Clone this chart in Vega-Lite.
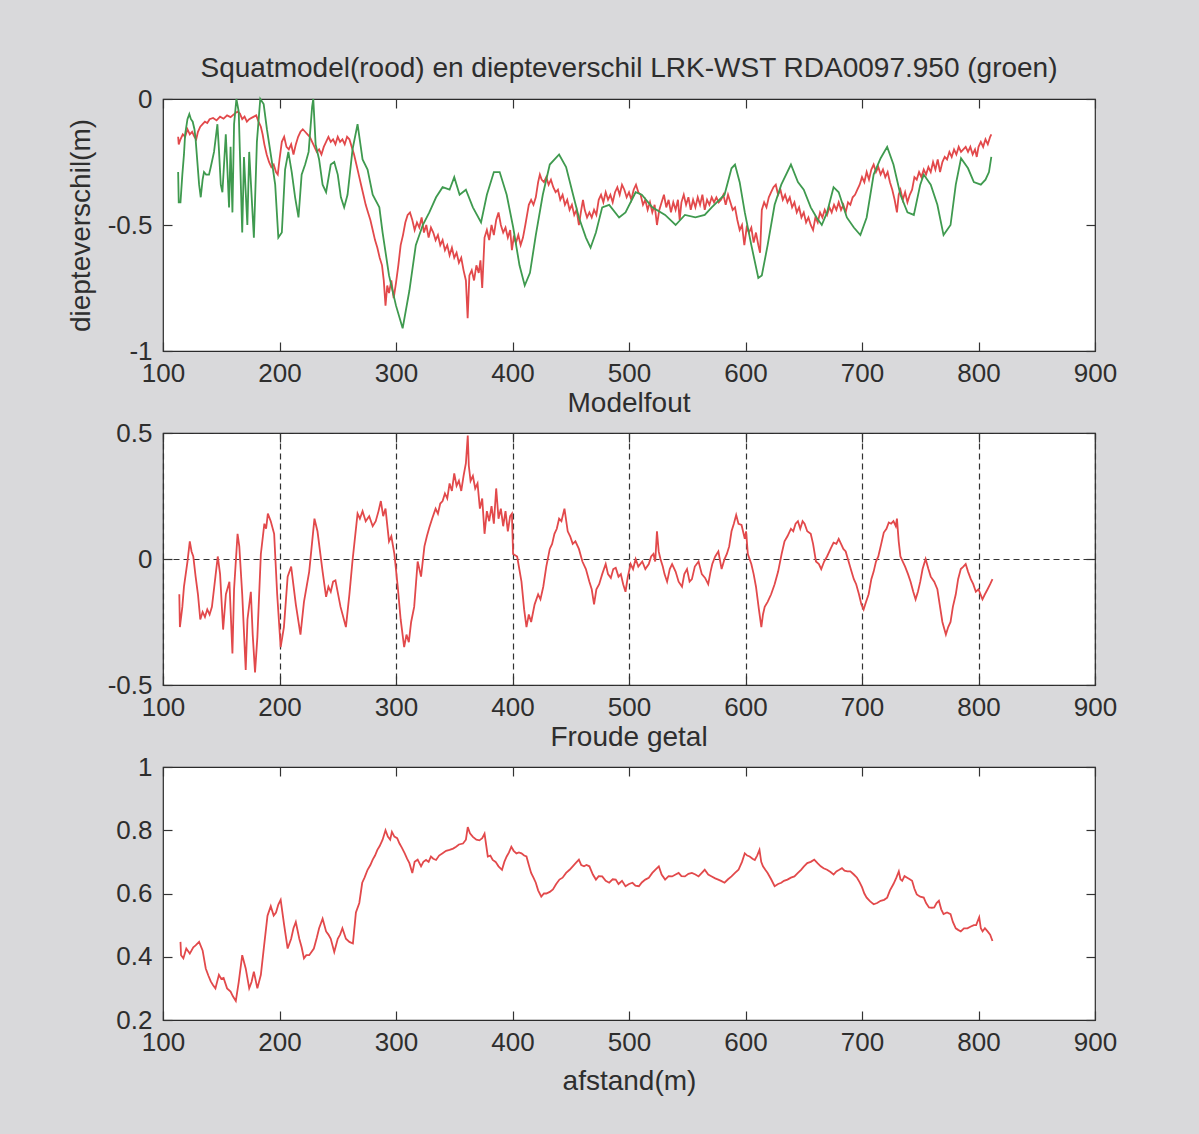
{
  "$schema": "https://vega.github.io/schema/vega-lite/v6.json",
  "background": "#d9d9db",
  "padding": {"left": 66, "top": 54, "right": 110, "bottom": 60},
  "spacing": 82,
  "bounds": "flush",
  "config": {
    "view": {"stroke": "#2b2b2b", "strokeWidth": 1.2, "fill": "#ffffff"},
    "font": "Liberation Sans",
    "axis": {"domain": false, "grid": false, "tickSize": -9, "tickColor": "#333333", "tickWidth": 1.2, "labelFontSize": 26, "labelColor": "#2e2e2e", "labelPadding": 20, "titleFontSize": 28, "titleFontWeight": "normal", "titleColor": "#2e2e2e", "labelFlush": false, "labelOverlap": false, "labelBound": false, "gridColor": "#333333", "gridDash": [6, 4], "gridOpacity": 1, "gridWidth": 1.2},
    "axisBottom": {"labelPadding": 18},
    "title": {"fontSize": 28, "fontWeight": "normal", "color": "#2e2e2e", "frame": "group", "anchor": "middle"},
    "line": {"strokeWidth": 1.8}
  },
  "datasets": {
    "squat": [
      {"x":113,"y":-0.15},{"x":113.5,"y":-0.18},{"x":115,"y":-0.16},{"x":117,"y":-0.14},{"x":119,"y":-0.15},{"x":121,"y":-0.12},{"x":123,"y":-0.14},{"x":125,"y":-0.13},{"x":127,"y":-0.15},{"x":128.5,"y":-0.16},{"x":130,"y":-0.13},{"x":132,"y":-0.11},{"x":134,"y":-0.1},{"x":136,"y":-0.09},{"x":138,"y":-0.095},{"x":140,"y":-0.08},{"x":143,"y":-0.075},{"x":146,"y":-0.085},{"x":149,"y":-0.07},{"x":152,"y":-0.078},{"x":155,"y":-0.065},{"x":158,"y":-0.072},{"x":161,"y":-0.06},{"x":164,"y":-0.05},{"x":166,"y":-0.058},{"x":168,"y":-0.08},{"x":170,"y":-0.07},{"x":172,"y":-0.09},{"x":174,"y":-0.08},{"x":176,"y":-0.075},{"x":178,"y":-0.07},{"x":180,"y":-0.065},{"x":182,"y":-0.09},{"x":184,"y":-0.11},{"x":185.5,"y":-0.14},{"x":187,"y":-0.18},{"x":189,"y":-0.22},{"x":191,"y":-0.25},{"x":193,"y":-0.27},{"x":195,"y":-0.26},{"x":197,"y":-0.29},{"x":198.5,"y":-0.3},{"x":200,"y":-0.24},{"x":202,"y":-0.17},{"x":204,"y":-0.15},{"x":206,"y":-0.19},{"x":208,"y":-0.2},{"x":210,"y":-0.18},{"x":212,"y":-0.22},{"x":214,"y":-0.18},{"x":216,"y":-0.15},{"x":218,"y":-0.13},{"x":220,"y":-0.12},{"x":222,"y":-0.13},{"x":224,"y":-0.14},{"x":226,"y":-0.15},{"x":228,"y":-0.17},{"x":230,"y":-0.19},{"x":232,"y":-0.21},{"x":234,"y":-0.2},{"x":236,"y":-0.22},{"x":238,"y":-0.19},{"x":240,"y":-0.17},{"x":242,"y":-0.15},{"x":244,"y":-0.17},{"x":246,"y":-0.16},{"x":248,"y":-0.18},{"x":250,"y":-0.15},{"x":252,"y":-0.17},{"x":254,"y":-0.16},{"x":256,"y":-0.18},{"x":258,"y":-0.15},{"x":260,"y":-0.16},{"x":262,"y":-0.19},{"x":264,"y":-0.22},{"x":266,"y":-0.26},{"x":268,"y":-0.3},{"x":270,"y":-0.34},{"x":272,"y":-0.38},{"x":274,"y":-0.42},{"x":276,"y":-0.45},{"x":278,"y":-0.48},{"x":280,"y":-0.52},{"x":282,"y":-0.56},{"x":284,"y":-0.59},{"x":286,"y":-0.63},{"x":288,"y":-0.66},{"x":289.5,"y":-0.72},{"x":291,"y":-0.82},{"x":292.5,"y":-0.74},{"x":294,"y":-0.77},{"x":296,"y":-0.72},{"x":298,"y":-0.79},{"x":300,"y":-0.73},{"x":302,"y":-0.66},{"x":304,"y":-0.58},{"x":306,"y":-0.54},{"x":308,"y":-0.49},{"x":310,"y":-0.46},{"x":312,"y":-0.45},{"x":314,"y":-0.48},{"x":316,"y":-0.52},{"x":318,"y":-0.49},{"x":320,"y":-0.51},{"x":322,"y":-0.47},{"x":324,"y":-0.53},{"x":326,"y":-0.5},{"x":328,"y":-0.55},{"x":330,"y":-0.51},{"x":332,"y":-0.53},{"x":334,"y":-0.56},{"x":336,"y":-0.54},{"x":338,"y":-0.58},{"x":340,"y":-0.56},{"x":342,"y":-0.6},{"x":344,"y":-0.58},{"x":346,"y":-0.62},{"x":348,"y":-0.59},{"x":350,"y":-0.63},{"x":352,"y":-0.61},{"x":354,"y":-0.65},{"x":356,"y":-0.63},{"x":358,"y":-0.68},{"x":360,"y":-0.72},{"x":361.5,"y":-0.87},{"x":363,"y":-0.7},{"x":365,"y":-0.68},{"x":367,"y":-0.72},{"x":369,"y":-0.66},{"x":371,"y":-0.69},{"x":372.5,"y":-0.64},{"x":374,"y":-0.75},{"x":376,"y":-0.55},{"x":378,"y":-0.52},{"x":380,"y":-0.56},{"x":382,"y":-0.5},{"x":384,"y":-0.54},{"x":386,"y":-0.48},{"x":388,"y":-0.45},{"x":390,"y":-0.5},{"x":392,"y":-0.53},{"x":394,"y":-0.51},{"x":396,"y":-0.55},{"x":398,"y":-0.52},{"x":399.5,"y":-0.6},{"x":401,"y":-0.55},{"x":403,"y":-0.57},{"x":405,"y":-0.54},{"x":407,"y":-0.58},{"x":409,"y":-0.55},{"x":411,"y":-0.5},{"x":412.5,"y":-0.46},{"x":414,"y":-0.42},{"x":416,"y":-0.4},{"x":418,"y":-0.42},{"x":420,"y":-0.39},{"x":422,"y":-0.33},{"x":423.5,"y":-0.3},{"x":425,"y":-0.32},{"x":427,"y":-0.33},{"x":429,"y":-0.31},{"x":431,"y":-0.34},{"x":433,"y":-0.32},{"x":435,"y":-0.35},{"x":437,"y":-0.37},{"x":439,"y":-0.36},{"x":441,"y":-0.4},{"x":443,"y":-0.38},{"x":445,"y":-0.42},{"x":447,"y":-0.4},{"x":449,"y":-0.44},{"x":451,"y":-0.42},{"x":453,"y":-0.46},{"x":455,"y":-0.44},{"x":457,"y":-0.5},{"x":459,"y":-0.44},{"x":460.5,"y":-0.4},{"x":462,"y":-0.44},{"x":464,"y":-0.47},{"x":466,"y":-0.45},{"x":468,"y":-0.47},{"x":470,"y":-0.44},{"x":472,"y":-0.46},{"x":474,"y":-0.4},{"x":476,"y":-0.38},{"x":478,"y":-0.41},{"x":480,"y":-0.37},{"x":482,"y":-0.4},{"x":484,"y":-0.38},{"x":486,"y":-0.41},{"x":488,"y":-0.37},{"x":490,"y":-0.35},{"x":492,"y":-0.38},{"x":494,"y":-0.34},{"x":496,"y":-0.36},{"x":498,"y":-0.39},{"x":500,"y":-0.37},{"x":502,"y":-0.4},{"x":504,"y":-0.36},{"x":506,"y":-0.34},{"x":508,"y":-0.37},{"x":510,"y":-0.38},{"x":512,"y":-0.42},{"x":514,"y":-0.4},{"x":516,"y":-0.44},{"x":518,"y":-0.41},{"x":520,"y":-0.45},{"x":522,"y":-0.42},{"x":524,"y":-0.5},{"x":526,"y":-0.44},{"x":528,"y":-0.41},{"x":530,"y":-0.38},{"x":532,"y":-0.43},{"x":534,"y":-0.4},{"x":536,"y":-0.45},{"x":538,"y":-0.41},{"x":540,"y":-0.44},{"x":542,"y":-0.4},{"x":543.5,"y":-0.48},{"x":545,"y":-0.41},{"x":547,"y":-0.38},{"x":549,"y":-0.42},{"x":551,"y":-0.39},{"x":553,"y":-0.44},{"x":555,"y":-0.4},{"x":557,"y":-0.43},{"x":559,"y":-0.39},{"x":561,"y":-0.42},{"x":563,"y":-0.38},{"x":565,"y":-0.44},{"x":567,"y":-0.4},{"x":569,"y":-0.42},{"x":571,"y":-0.39},{"x":573,"y":-0.41},{"x":575,"y":-0.39},{"x":577,"y":-0.41},{"x":579,"y":-0.4},{"x":581,"y":-0.38},{"x":583,"y":-0.42},{"x":585,"y":-0.38},{"x":587,"y":-0.41},{"x":589,"y":-0.44},{"x":591,"y":-0.43},{"x":593,"y":-0.48},{"x":595,"y":-0.52},{"x":597,"y":-0.5},{"x":599,"y":-0.58},{"x":601,"y":-0.51},{"x":603,"y":-0.53},{"x":605,"y":-0.51},{"x":607,"y":-0.57},{"x":609,"y":-0.53},{"x":611,"y":-0.58},{"x":612.5,"y":-0.61},{"x":614,"y":-0.44},{"x":616,"y":-0.41},{"x":618,"y":-0.43},{"x":620,"y":-0.39},{"x":622,"y":-0.37},{"x":624,"y":-0.35},{"x":626,"y":-0.34},{"x":628,"y":-0.38},{"x":630,"y":-0.36},{"x":632,"y":-0.4},{"x":634,"y":-0.38},{"x":636,"y":-0.41},{"x":638,"y":-0.39},{"x":640,"y":-0.43},{"x":642,"y":-0.41},{"x":644,"y":-0.45},{"x":646,"y":-0.43},{"x":648,"y":-0.47},{"x":650,"y":-0.45},{"x":652,"y":-0.49},{"x":654,"y":-0.47},{"x":656,"y":-0.5},{"x":658,"y":-0.52},{"x":660,"y":-0.47},{"x":662,"y":-0.49},{"x":664,"y":-0.45},{"x":666,"y":-0.47},{"x":668,"y":-0.44},{"x":670,"y":-0.46},{"x":672,"y":-0.43},{"x":674,"y":-0.45},{"x":676,"y":-0.42},{"x":678,"y":-0.44},{"x":680,"y":-0.41},{"x":682,"y":-0.44},{"x":684,"y":-0.42},{"x":686,"y":-0.45},{"x":688,"y":-0.41},{"x":690,"y":-0.42},{"x":692,"y":-0.39},{"x":694,"y":-0.38},{"x":696,"y":-0.36},{"x":698,"y":-0.34},{"x":700,"y":-0.31},{"x":702,"y":-0.33},{"x":704,"y":-0.29},{"x":706,"y":-0.32},{"x":708,"y":-0.28},{"x":710,"y":-0.26},{"x":712,"y":-0.29},{"x":714,"y":-0.27},{"x":716,"y":-0.3},{"x":718,"y":-0.28},{"x":720,"y":-0.31},{"x":722,"y":-0.29},{"x":724,"y":-0.33},{"x":726,"y":-0.36},{"x":728,"y":-0.4},{"x":730,"y":-0.45},{"x":731.5,"y":-0.38},{"x":733,"y":-0.36},{"x":735,"y":-0.4},{"x":737,"y":-0.37},{"x":739,"y":-0.41},{"x":741,"y":-0.38},{"x":743,"y":-0.36},{"x":745,"y":-0.31},{"x":747,"y":-0.32},{"x":749,"y":-0.29},{"x":751,"y":-0.31},{"x":753,"y":-0.28},{"x":755,"y":-0.3},{"x":757,"y":-0.27},{"x":759,"y":-0.29},{"x":761,"y":-0.25},{"x":763,"y":-0.28},{"x":765,"y":-0.24},{"x":767,"y":-0.29},{"x":769,"y":-0.25},{"x":771,"y":-0.23},{"x":773,"y":-0.24},{"x":775,"y":-0.21},{"x":777,"y":-0.23},{"x":779,"y":-0.2},{"x":781,"y":-0.22},{"x":783,"y":-0.19},{"x":785,"y":-0.21},{"x":787,"y":-0.2},{"x":789,"y":-0.19},{"x":791,"y":-0.21},{"x":793,"y":-0.19},{"x":795,"y":-0.22},{"x":797,"y":-0.2},{"x":798.5,"y":-0.23},{"x":800,"y":-0.19},{"x":802,"y":-0.17},{"x":804,"y":-0.19},{"x":806,"y":-0.16},{"x":808,"y":-0.18},{"x":810,"y":-0.15},{"x":811,"y":-0.14}
    ],
    "diepte": [
      {"x":113,"y":-0.29},{"x":113.5,"y":-0.41},{"x":115,"y":-0.41},{"x":116.6,"y":-0.3},{"x":118,"y":-0.22},{"x":119,"y":-0.14},{"x":121,"y":-0.08},{"x":122.6,"y":-0.06},{"x":124,"y":-0.08},{"x":125.5,"y":-0.09},{"x":127,"y":-0.12},{"x":128,"y":-0.16},{"x":130,"y":-0.28},{"x":131,"y":-0.34},{"x":132.4,"y":-0.39},{"x":134,"y":-0.32},{"x":135.2,"y":-0.29},{"x":137,"y":-0.3},{"x":139.5,"y":-0.3},{"x":141,"y":-0.27},{"x":143.8,"y":-0.21},{"x":146.7,"y":-0.1},{"x":148,"y":-0.2},{"x":149.6,"y":-0.34},{"x":151,"y":-0.37},{"x":153.9,"y":-0.14},{"x":155,"y":-0.25},{"x":156.7,"y":-0.43},{"x":158,"y":-0.19},{"x":159.6,"y":-0.45},{"x":161,"y":-0.1},{"x":163,"y":0},{"x":165,"y":-0.05},{"x":168,"y":-0.53},{"x":169.5,"y":-0.23},{"x":172.4,"y":-0.5},{"x":174,"y":-0.21},{"x":178,"y":-0.55},{"x":180.6,"y":-0.17},{"x":183.5,"y":0},{"x":186.4,"y":-0.02},{"x":189.2,"y":-0.12},{"x":193.5,"y":-0.25},{"x":196.3,"y":-0.34},{"x":199,"y":-0.55},{"x":202,"y":-0.53},{"x":204.8,"y":-0.28},{"x":207.6,"y":-0.21},{"x":210.5,"y":-0.29},{"x":213.4,"y":-0.39},{"x":216.3,"y":-0.47},{"x":219,"y":-0.3},{"x":222,"y":-0.26},{"x":225,"y":-0.21},{"x":228,"y":-0.03},{"x":229,"y":0},{"x":231,"y":-0.18},{"x":234,"y":-0.24},{"x":237,"y":-0.34},{"x":240,"y":-0.37},{"x":244,"y":-0.26},{"x":247,"y":-0.25},{"x":250,"y":-0.3},{"x":252.7,"y":-0.39},{"x":255.5,"y":-0.43},{"x":258.4,"y":-0.38},{"x":262.7,"y":-0.2},{"x":267,"y":-0.1},{"x":271.3,"y":-0.24},{"x":275.6,"y":-0.28},{"x":280,"y":-0.38},{"x":285.7,"y":-0.43},{"x":288.5,"y":-0.53},{"x":294,"y":-0.7},{"x":300,"y":-0.82},{"x":305.7,"y":-0.91},{"x":311.5,"y":-0.76},{"x":317,"y":-0.58},{"x":323,"y":-0.5},{"x":328.6,"y":-0.45},{"x":334.4,"y":-0.39},{"x":340,"y":-0.35},{"x":346,"y":-0.36},{"x":350,"y":-0.31},{"x":354.6,"y":-0.38},{"x":360,"y":-0.36},{"x":366,"y":-0.43},{"x":373,"y":-0.49},{"x":378,"y":-0.38},{"x":384,"y":-0.29},{"x":389,"y":-0.29},{"x":395,"y":-0.38},{"x":400.6,"y":-0.51},{"x":406,"y":-0.66},{"x":410.5,"y":-0.74},{"x":415,"y":-0.69},{"x":420,"y":-0.54},{"x":426,"y":-0.38},{"x":432,"y":-0.26},{"x":440,"y":-0.22},{"x":446,"y":-0.27},{"x":452,"y":-0.38},{"x":457,"y":-0.47},{"x":463,"y":-0.55},{"x":467,"y":-0.59},{"x":471.6,"y":-0.53},{"x":477,"y":-0.43},{"x":483,"y":-0.42},{"x":491.5,"y":-0.47},{"x":497,"y":-0.45},{"x":505.7,"y":-0.37},{"x":511,"y":-0.38},{"x":520,"y":-0.43},{"x":531,"y":-0.46},{"x":540,"y":-0.5},{"x":548,"y":-0.46},{"x":557,"y":-0.47},{"x":565,"y":-0.46},{"x":571,"y":-0.43},{"x":582,"y":-0.38},{"x":588,"y":-0.275},{"x":591,"y":-0.26},{"x":595,"y":-0.33},{"x":599.4,"y":-0.45},{"x":605,"y":-0.58},{"x":611,"y":-0.71},{"x":614,"y":-0.7},{"x":619,"y":-0.58},{"x":625,"y":-0.42},{"x":630.7,"y":-0.34},{"x":639,"y":-0.26},{"x":645,"y":-0.33},{"x":650,"y":-0.36},{"x":656,"y":-0.43},{"x":661,"y":-0.47},{"x":665.5,"y":-0.5},{"x":670,"y":-0.45},{"x":675.6,"y":-0.35},{"x":680,"y":-0.37},{"x":687,"y":-0.47},{"x":693,"y":-0.51},{"x":698.6,"y":-0.54},{"x":704,"y":-0.47},{"x":710,"y":-0.3},{"x":716,"y":-0.235},{"x":721.6,"y":-0.19},{"x":727,"y":-0.26},{"x":733,"y":-0.38},{"x":739,"y":-0.45},{"x":744.5,"y":-0.46},{"x":750,"y":-0.34},{"x":753,"y":-0.3},{"x":759,"y":-0.34},{"x":764.7,"y":-0.42},{"x":770,"y":-0.54},{"x":776,"y":-0.5},{"x":780.5,"y":-0.34},{"x":785,"y":-0.235},{"x":791,"y":-0.275},{"x":796,"y":-0.33},{"x":802,"y":-0.34},{"x":806,"y":-0.32},{"x":809,"y":-0.29},{"x":811,"y":-0.23}
    ],
    "fout": [
      {"x":114,"y":-0.14},{"x":114.5,"y":-0.27},{"x":116.6,"y":-0.19},{"x":118,"y":-0.11},{"x":121,"y":-0.01},{"x":123,"y":0.07},{"x":124.5,"y":0.03},{"x":126,"y":0.01},{"x":128,"y":-0.07},{"x":130,"y":-0.14},{"x":132,"y":-0.24},{"x":134,"y":-0.21},{"x":136,"y":-0.23},{"x":138,"y":-0.2},{"x":140,"y":-0.22},{"x":142,"y":-0.19},{"x":145,"y":-0.07},{"x":147,"y":0.01},{"x":149,"y":-0.06},{"x":151.6,"y":-0.28},{"x":154,"y":-0.14},{"x":157,"y":-0.09},{"x":159.6,"y":-0.375},{"x":161,"y":-0.12},{"x":164,"y":0.1},{"x":165.5,"y":0.05},{"x":168,"y":-0.14},{"x":171,"y":-0.44},{"x":172.5,"y":-0.24},{"x":175.4,"y":-0.13},{"x":177,"y":-0.3},{"x":179,"y":-0.45},{"x":181,"y":-0.31},{"x":184,"y":0.02},{"x":187,"y":0.14},{"x":188.5,"y":0.12},{"x":190,"y":0.18},{"x":192.5,"y":0.15},{"x":195.4,"y":0.1},{"x":198,"y":-0.14},{"x":201,"y":-0.35},{"x":203.8,"y":-0.27},{"x":207,"y":-0.07},{"x":210,"y":-0.03},{"x":214,"y":-0.18},{"x":218,"y":-0.3},{"x":221,"y":-0.17},{"x":225.5,"y":-0.05},{"x":230,"y":0.16},{"x":232.6,"y":0.11},{"x":237,"y":-0.05},{"x":240,"y":-0.15},{"x":242,"y":-0.11},{"x":244,"y":-0.13},{"x":246,"y":-0.09},{"x":248,"y":-0.085},{"x":252.4,"y":-0.19},{"x":257,"y":-0.27},{"x":260,"y":-0.14},{"x":262.6,"y":-0.01},{"x":267,"y":0.18},{"x":269,"y":0.16},{"x":271.3,"y":0.19},{"x":274,"y":0.15},{"x":277,"y":0.17},{"x":280,"y":0.13},{"x":282.6,"y":0.15},{"x":285,"y":0.19},{"x":287,"y":0.23},{"x":289,"y":0.17},{"x":291,"y":0.2},{"x":294,"y":0.07},{"x":296,"y":0.09},{"x":298.6,"y":0.02},{"x":301.5,"y":-0.11},{"x":304,"y":-0.24},{"x":307,"y":-0.35},{"x":309,"y":-0.3},{"x":311,"y":-0.33},{"x":313,"y":-0.25},{"x":315.6,"y":-0.19},{"x":318.6,"y":-0.01},{"x":321.5,"y":-0.07},{"x":324.4,"y":0.05},{"x":326.5,"y":0.09},{"x":328.6,"y":0.125},{"x":331,"y":0.16},{"x":334,"y":0.2},{"x":336,"y":0.18},{"x":338,"y":0.22},{"x":340,"y":0.23},{"x":342,"y":0.26},{"x":344,"y":0.24},{"x":346,"y":0.3},{"x":348,"y":0.27},{"x":350,"y":0.34},{"x":352,"y":0.29},{"x":354,"y":0.31},{"x":356,"y":0.27},{"x":358,"y":0.33},{"x":360,"y":0.38},{"x":361.6,"y":0.49},{"x":362.5,"y":0.37},{"x":364,"y":0.31},{"x":366,"y":0.33},{"x":368,"y":0.28},{"x":370,"y":0.3},{"x":372,"y":0.2},{"x":374,"y":0.24},{"x":376,"y":0.1},{"x":378,"y":0.19},{"x":380,"y":0.15},{"x":382,"y":0.21},{"x":384,"y":0.14},{"x":386,"y":0.28},{"x":388,"y":0.16},{"x":390,"y":0.2},{"x":392,"y":0.13},{"x":394,"y":0.19},{"x":396,"y":0.11},{"x":398,"y":0.17},{"x":399.5,"y":0.18},{"x":400.5,"y":0.02},{"x":404,"y":0.01},{"x":407.7,"y":-0.09},{"x":410,"y":-0.2},{"x":412,"y":-0.27},{"x":414,"y":-0.22},{"x":416,"y":-0.25},{"x":419,"y":-0.18},{"x":422,"y":-0.14},{"x":424,"y":-0.16},{"x":426.4,"y":-0.11},{"x":429,"y":-0.03},{"x":432,"y":0.04},{"x":434,"y":0.06},{"x":436,"y":0.1},{"x":438,"y":0.12},{"x":440,"y":0.16},{"x":442,"y":0.15},{"x":444.6,"y":0.2},{"x":447.4,"y":0.11},{"x":449.5,"y":0.09},{"x":451.7,"y":0.06},{"x":454,"y":0.07},{"x":457,"y":0.04},{"x":460,"y":-0.01},{"x":463,"y":-0.04},{"x":466,"y":-0.09},{"x":468,"y":-0.12},{"x":470,"y":-0.18},{"x":472,"y":-0.12},{"x":474.4,"y":-0.1},{"x":477,"y":-0.06},{"x":480,"y":-0.02},{"x":482,"y":-0.06},{"x":484.4,"y":-0.075},{"x":486.5,"y":-0.04},{"x":488.6,"y":-0.035},{"x":491,"y":-0.07},{"x":493,"y":-0.06},{"x":495,"y":-0.1},{"x":497,"y":-0.13},{"x":499,"y":-0.07},{"x":501.4,"y":-0.02},{"x":503.5,"y":-0.04},{"x":505.7,"y":0},{"x":508,"y":-0.03},{"x":511.4,"y":-0.01},{"x":514,"y":-0.04},{"x":517,"y":-0.02},{"x":519,"y":0.01},{"x":521,"y":0.02},{"x":522.5,"y":-0.01},{"x":524,"y":0.11},{"x":525.5,"y":0.03},{"x":527,"y":0},{"x":529,"y":-0.03},{"x":530.5,"y":-0.06},{"x":532.7,"y":-0.09},{"x":535,"y":-0.04},{"x":537,"y":-0.02},{"x":540,"y":-0.05},{"x":542.6,"y":-0.09},{"x":545.5,"y":-0.11},{"x":547.5,"y":-0.06},{"x":549.8,"y":-0.04},{"x":552,"y":-0.09},{"x":554,"y":-0.08},{"x":556.5,"y":-0.03},{"x":559.7,"y":-0.01},{"x":562.5,"y":-0.06},{"x":565.3,"y":-0.075},{"x":568,"y":-0.1},{"x":570,"y":-0.05},{"x":571.5,"y":-0.02},{"x":574,"y":0.01},{"x":576.7,"y":0.03},{"x":579.5,"y":-0.04},{"x":582,"y":0},{"x":584,"y":0.02},{"x":586,"y":0.05},{"x":588,"y":0.11},{"x":590,"y":0.14},{"x":592,"y":0.175},{"x":594,"y":0.14},{"x":596.6,"y":0.135},{"x":599.4,"y":0.08},{"x":600.5,"y":0.11},{"x":602,"y":0.02},{"x":605,"y":-0.02},{"x":607,"y":-0.06},{"x":609,"y":-0.11},{"x":611.5,"y":-0.2},{"x":613.6,"y":-0.27},{"x":615,"y":-0.22},{"x":616.5,"y":-0.19},{"x":619,"y":-0.17},{"x":622,"y":-0.14},{"x":625,"y":-0.1},{"x":628,"y":-0.05},{"x":631,"y":0.02},{"x":633.5,"y":0.07},{"x":636,"y":0.09},{"x":639,"y":0.12},{"x":641,"y":0.11},{"x":643,"y":0.14},{"x":645,"y":0.15},{"x":647,"y":0.12},{"x":649,"y":0.15},{"x":650.7,"y":0.14},{"x":653,"y":0.11},{"x":656,"y":0.1},{"x":658,"y":0.06},{"x":660.5,"y":-0.01},{"x":663,"y":-0.02},{"x":665,"y":-0.04},{"x":667.5,"y":-0.01},{"x":670,"y":0.01},{"x":673,"y":0.04},{"x":675.6,"y":0.065},{"x":678,"y":0.06},{"x":680,"y":0.08},{"x":682,"y":0.06},{"x":684,"y":0.04},{"x":686,"y":0.03},{"x":688.5,"y":-0.01},{"x":691,"y":-0.05},{"x":693,"y":-0.08},{"x":695,"y":-0.1},{"x":697.4,"y":-0.14},{"x":699.5,"y":-0.18},{"x":701.4,"y":-0.2},{"x":703.5,"y":-0.17},{"x":705.7,"y":-0.14},{"x":708,"y":-0.08},{"x":710,"y":-0.05},{"x":712,"y":-0.01},{"x":714,"y":0.01},{"x":716.5,"y":0.06},{"x":718.7,"y":0.105},{"x":721,"y":0.12},{"x":723,"y":0.145},{"x":725,"y":0.14},{"x":727,"y":0.15},{"x":729,"y":0.13},{"x":730,"y":0.16},{"x":731.5,"y":0.07},{"x":733,"y":0.01},{"x":735,"y":-0.01},{"x":737,"y":-0.03},{"x":739.5,"y":-0.06},{"x":741.7,"y":-0.09},{"x":744,"y":-0.13},{"x":746,"y":-0.16},{"x":748,"y":-0.13},{"x":750,"y":-0.09},{"x":752,"y":-0.04},{"x":754.6,"y":0},{"x":757,"y":-0.04},{"x":759,"y":-0.07},{"x":762,"y":-0.09},{"x":764.7,"y":-0.12},{"x":767,"y":-0.19},{"x":769,"y":-0.25},{"x":772,"y":-0.3},{"x":774,"y":-0.27},{"x":776,"y":-0.25},{"x":778,"y":-0.19},{"x":780.5,"y":-0.14},{"x":782.5,"y":-0.08},{"x":784.8,"y":-0.04},{"x":787,"y":-0.03},{"x":789,"y":-0.02},{"x":791,"y":-0.05},{"x":793.4,"y":-0.08},{"x":795.5,"y":-0.1},{"x":797.7,"y":-0.13},{"x":800,"y":-0.12},{"x":803.4,"y":-0.16},{"x":805.5,"y":-0.14},{"x":807.8,"y":-0.12},{"x":810,"y":-0.1},{"x":812,"y":-0.08}
    ],
    "froude": [
      {"x":115,"y":0.447},{"x":115.5,"y":0.405},{"x":117.5,"y":0.395},{"x":120,"y":0.426},{"x":123,"y":0.41},{"x":126,"y":0.43},{"x":128,"y":0.436},{"x":131,"y":0.447},{"x":134,"y":0.42},{"x":136.7,"y":0.363},{"x":139,"y":0.34},{"x":141,"y":0.322},{"x":143,"y":0.31},{"x":145,"y":0.3},{"x":148,"y":0.343},{"x":150,"y":0.33},{"x":152,"y":0.333},{"x":155,"y":0.3},{"x":158,"y":0.29},{"x":160,"y":0.275},{"x":162.5,"y":0.26},{"x":165,"y":0.32},{"x":168,"y":0.405},{"x":171,"y":0.363},{"x":174,"y":0.3},{"x":176,"y":0.32},{"x":178,"y":0.353},{"x":181,"y":0.3},{"x":184,"y":0.343},{"x":186.8,"y":0.436},{"x":189.7,"y":0.53},{"x":192.5,"y":0.56},{"x":195,"y":0.53},{"x":197,"y":0.54},{"x":199,"y":0.565},{"x":201,"y":0.58},{"x":204,"y":0.5},{"x":207,"y":0.426},{"x":210,"y":0.457},{"x":212,"y":0.49},{"x":214,"y":0.51},{"x":217,"y":0.457},{"x":219,"y":0.43},{"x":221,"y":0.395},{"x":223,"y":0.405},{"x":225.5,"y":0.405},{"x":229.5,"y":0.426},{"x":232,"y":0.46},{"x":234,"y":0.49},{"x":237,"y":0.52},{"x":240,"y":0.48},{"x":242,"y":0.47},{"x":244,"y":0.457},{"x":247,"y":0.415},{"x":250,"y":0.457},{"x":252,"y":0.47},{"x":254,"y":0.49},{"x":257,"y":0.457},{"x":260,"y":0.447},{"x":263,"y":0.442},{"x":265.6,"y":0.54},{"x":268.5,"y":0.57},{"x":271,"y":0.634},{"x":273,"y":0.65},{"x":275.6,"y":0.675},{"x":278,"y":0.69},{"x":280,"y":0.707},{"x":282,"y":0.72},{"x":284,"y":0.738},{"x":286,"y":0.75},{"x":288.5,"y":0.77},{"x":291,"y":0.8},{"x":293,"y":0.78},{"x":295,"y":0.77},{"x":296.5,"y":0.795},{"x":298.6,"y":0.78},{"x":301,"y":0.775},{"x":303,"y":0.758},{"x":305,"y":0.745},{"x":307.5,"y":0.727},{"x":309.5,"y":0.71},{"x":311.5,"y":0.696},{"x":314,"y":0.665},{"x":316,"y":0.7},{"x":318.6,"y":0.707},{"x":321.5,"y":0.686},{"x":323.5,"y":0.7},{"x":325.8,"y":0.706},{"x":328,"y":0.7},{"x":330,"y":0.717},{"x":332,"y":0.71},{"x":334.4,"y":0.706},{"x":337,"y":0.72},{"x":340,"y":0.727},{"x":343,"y":0.735},{"x":346,"y":0.738},{"x":349,"y":0.742},{"x":351.6,"y":0.748},{"x":354,"y":0.755},{"x":357.5,"y":0.758},{"x":360,"y":0.77},{"x":361.6,"y":0.81},{"x":363.5,"y":0.79},{"x":366,"y":0.779},{"x":369,"y":0.77},{"x":371.6,"y":0.768},{"x":374,"y":0.775},{"x":376,"y":0.789},{"x":378.8,"y":0.717},{"x":381,"y":0.72},{"x":383,"y":0.706},{"x":385.5,"y":0.7},{"x":388,"y":0.686},{"x":391,"y":0.675},{"x":393,"y":0.7},{"x":395,"y":0.717},{"x":397,"y":0.73},{"x":399,"y":0.748},{"x":401,"y":0.735},{"x":403.4,"y":0.727},{"x":405.5,"y":0.73},{"x":407.7,"y":0.727},{"x":410,"y":0.72},{"x":412,"y":0.717},{"x":414,"y":0.69},{"x":416,"y":0.665},{"x":418,"y":0.65},{"x":420,"y":0.634},{"x":422,"y":0.61},{"x":424.7,"y":0.59},{"x":427,"y":0.6},{"x":429,"y":0.6},{"x":432,"y":0.605},{"x":434.7,"y":0.613},{"x":437.5,"y":0.63},{"x":440.3,"y":0.644},{"x":443,"y":0.65},{"x":446,"y":0.665},{"x":449,"y":0.675},{"x":451.7,"y":0.686},{"x":454,"y":0.695},{"x":457,"y":0.707},{"x":459,"y":0.69},{"x":461.4,"y":0.686},{"x":463.5,"y":0.69},{"x":466,"y":0.686},{"x":469,"y":0.66},{"x":471.6,"y":0.644},{"x":474,"y":0.655},{"x":477,"y":0.654},{"x":480,"y":0.64},{"x":483,"y":0.634},{"x":486,"y":0.645},{"x":488.6,"y":0.644},{"x":491,"y":0.63},{"x":494,"y":0.64},{"x":497,"y":0.623},{"x":500,"y":0.63},{"x":503,"y":0.634},{"x":505.5,"y":0.625},{"x":508.5,"y":0.623},{"x":511,"y":0.635},{"x":514,"y":0.644},{"x":517,"y":0.65},{"x":520,"y":0.665},{"x":522.5,"y":0.675},{"x":525.6,"y":0.686},{"x":528,"y":0.66},{"x":531,"y":0.644},{"x":534,"y":0.655},{"x":537,"y":0.654},{"x":540,"y":0.66},{"x":542.6,"y":0.665},{"x":545,"y":0.655},{"x":548,"y":0.654},{"x":551,"y":0.662},{"x":554,"y":0.665},{"x":557,"y":0.66},{"x":559.7,"y":0.654},{"x":562.5,"y":0.665},{"x":565,"y":0.675},{"x":568,"y":0.66},{"x":571,"y":0.654},{"x":574,"y":0.648},{"x":576.6,"y":0.644},{"x":579,"y":0.64},{"x":582,"y":0.634},{"x":585,"y":0.645},{"x":588,"y":0.654},{"x":591,"y":0.665},{"x":594,"y":0.675},{"x":597,"y":0.7},{"x":599.4,"y":0.727},{"x":601.5,"y":0.72},{"x":603.6,"y":0.717},{"x":606,"y":0.71},{"x":608,"y":0.706},{"x":610,"y":0.72},{"x":612,"y":0.738},{"x":613.5,"y":0.7},{"x":615,"y":0.686},{"x":617,"y":0.675},{"x":619,"y":0.665},{"x":622,"y":0.645},{"x":625,"y":0.623},{"x":628,"y":0.63},{"x":630.7,"y":0.634},{"x":633,"y":0.64},{"x":636,"y":0.644},{"x":639,"y":0.65},{"x":642,"y":0.654},{"x":645,"y":0.665},{"x":647.7,"y":0.675},{"x":650,"y":0.685},{"x":653,"y":0.696},{"x":656,"y":0.7},{"x":659,"y":0.707},{"x":662,"y":0.695},{"x":664.6,"y":0.686},{"x":667,"y":0.68},{"x":670,"y":0.675},{"x":673,"y":0.668},{"x":675.6,"y":0.66},{"x":678,"y":0.67},{"x":680.5,"y":0.675},{"x":682.8,"y":0.68},{"x":685,"y":0.672},{"x":687.5,"y":0.67},{"x":690,"y":0.67},{"x":693,"y":0.66},{"x":695.7,"y":0.65},{"x":698,"y":0.635},{"x":700,"y":0.62},{"x":702,"y":0.6},{"x":704,"y":0.587},{"x":707,"y":0.575},{"x":710,"y":0.566},{"x":713,"y":0.57},{"x":716,"y":0.577},{"x":719,"y":0.58},{"x":721.6,"y":0.587},{"x":724,"y":0.61},{"x":727,"y":0.63},{"x":729.5,"y":0.65},{"x":731.6,"y":0.67},{"x":733,"y":0.645},{"x":734.5,"y":0.64},{"x":736.5,"y":0.655},{"x":738.8,"y":0.65},{"x":741,"y":0.645},{"x":743,"y":0.64},{"x":745,"y":0.615},{"x":747,"y":0.597},{"x":750,"y":0.59},{"x":753,"y":0.587},{"x":755,"y":0.57},{"x":757.5,"y":0.556},{"x":760,"y":0.555},{"x":762,"y":0.556},{"x":764,"y":0.57},{"x":766,"y":0.577},{"x":768,"y":0.55},{"x":770,"y":0.535},{"x":773,"y":0.54},{"x":776,"y":0.535},{"x":778,"y":0.51},{"x":780.5,"y":0.49},{"x":782.5,"y":0.485},{"x":784.8,"y":0.48},{"x":787.5,"y":0.49},{"x":790.5,"y":0.49},{"x":793,"y":0.495},{"x":796,"y":0.5},{"x":798,"y":0.5},{"x":800.6,"y":0.525},{"x":802,"y":0.49},{"x":803.5,"y":0.48},{"x":805.5,"y":0.49},{"x":807.8,"y":0.48},{"x":810,"y":0.47},{"x":812,"y":0.45}
    ]
  },
  "vconcat": [
    {
      "width": 932,
      "height": 252,
      "title": {"text": "Squatmodel(rood) en diepteverschil LRK-WST RDA0097.950 (groen)", "offset": 3},
      "resolve": {"axis": {"x": "independent", "y": "independent"}},
      "layer": [
        {
          "data": {"name": "squat"},
          "mark": {"type": "line", "color": "#e2494b"},
          "encoding": {
            "x": {"field": "x", "type": "quantitative", "scale": {"domain": [100, 900], "nice": false, "zero": false}, "axis": {"orient": "bottom", "values": [100, 200, 300, 400, 500, 600, 700, 800, 900], "title": null, "labelExpr": "toString(datum.value)"}},
            "y": {"field": "y", "type": "quantitative", "scale": {"domain": [-1, 0], "nice": false, "zero": false}, "axis": {"orient": "left", "values": [-1, -0.5, 0], "title": "diepteverschil(m)", "labelExpr": "toString(datum.value)", "titlePadding": 12}}
          }
        },
        {
          "data": {"name": "diepte"},
          "mark": {"type": "line", "color": "#3f9a4f"},
          "encoding": {
            "x": {"field": "x", "type": "quantitative", "axis": {"orient": "top", "values": [100, 200, 300, 400, 500, 600, 700, 800, 900], "labels": false, "title": null}},
            "y": {"field": "y", "type": "quantitative", "axis": {"orient": "right", "values": [-1, -0.5, 0], "labels": false, "title": null}}
          }
        }
      ]
    },
    {
      "width": 932,
      "height": 252,
      "title": {"text": "Modelfout", "offset": 2},
      "resolve": {"axis": {"x": "independent", "y": "independent"}},
      "layer": [
        {
          "data": {"name": "fout"},
          "mark": {"type": "line", "color": "#e2494b"},
          "encoding": {
            "x": {"field": "x", "type": "quantitative", "scale": {"domain": [100, 900], "nice": false, "zero": false}, "axis": {"orient": "bottom", "values": [100, 200, 300, 400, 500, 600, 700, 800, 900], "title": null, "grid": true, "labelExpr": "toString(datum.value)"}},
            "y": {"field": "y", "type": "quantitative", "scale": {"domain": [-0.5, 0.5], "nice": false, "zero": false}, "axis": {"orient": "left", "values": [-0.5, 0, 0.5], "title": null, "grid": true, "labelExpr": "toString(datum.value)"}}
          }
        },
        {
          "data": {"name": "fout"},
          "mark": {"type": "line", "opacity": 0},
          "encoding": {
            "x": {"field": "x", "type": "quantitative", "axis": {"orient": "top", "values": [100, 200, 300, 400, 500, 600, 700, 800, 900], "labels": false, "title": null}},
            "y": {"field": "y", "type": "quantitative", "axis": {"orient": "right", "values": [-0.5, 0, 0.5], "labels": false, "title": null}}
          }
        }
      ]
    },
    {
      "width": 932,
      "height": 253,
      "title": {"text": "Froude getal", "offset": 2},
      "resolve": {"axis": {"x": "independent", "y": "independent"}},
      "layer": [
        {
          "data": {"name": "froude"},
          "mark": {"type": "line", "color": "#e2494b"},
          "encoding": {
            "x": {"field": "x", "type": "quantitative", "scale": {"domain": [100, 900], "nice": false, "zero": false}, "axis": {"orient": "bottom", "values": [100, 200, 300, 400, 500, 600, 700, 800, 900], "title": "afstand(m)", "labelExpr": "toString(datum.value)", "titlePadding": 12}},
            "y": {"field": "y", "type": "quantitative", "scale": {"domain": [0.2, 1], "nice": false, "zero": false}, "axis": {"orient": "left", "values": [0.2, 0.4, 0.6, 0.8, 1], "title": null, "labelExpr": "toString(datum.value)"}}
          }
        },
        {
          "data": {"name": "froude"},
          "mark": {"type": "line", "opacity": 0},
          "encoding": {
            "x": {"field": "x", "type": "quantitative", "axis": {"orient": "top", "values": [100, 200, 300, 400, 500, 600, 700, 800, 900], "labels": false, "title": null}},
            "y": {"field": "y", "type": "quantitative", "axis": {"orient": "right", "values": [0.2, 0.4, 0.6, 0.8, 1], "labels": false, "title": null}}
          }
        }
      ]
    }
  ]
}
